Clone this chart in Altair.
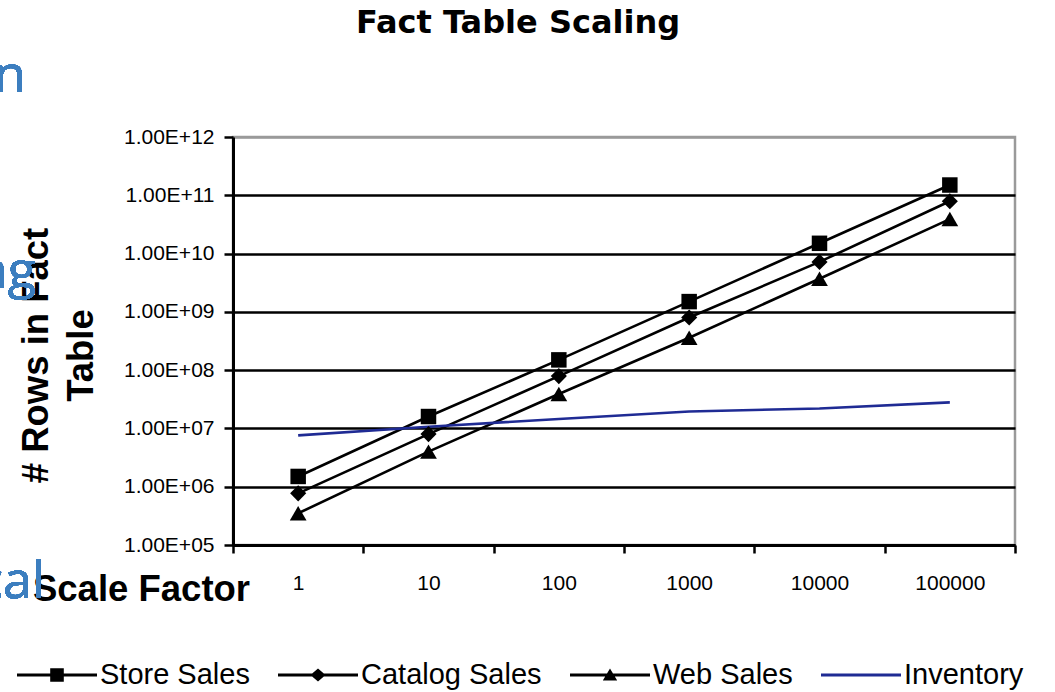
import altair as alt
import pandas as pd

# ---- data ----
scale_factors = ["1", "10", "100", "1000", "10000", "100000"]
series_names = ["Store Sales", "Catalog Sales", "Web Sales", "Inventory"]
store_sales = [1.5e6, 1.6e7, 1.5e8, 1.5e9, 1.5e10, 1.5e11]
catalog_sales = [7.7e5, 8.0e6, 7.9e7, 8.0e8, 7.2e9, 7.9e10]
web_sales = [3.5e5, 4.0e6, 3.9e7, 3.6e8, 3.7e9, 3.9e10]
inventory = [7.6e6, 1.07e7, 1.45e7, 1.95e7, 2.2e7, 2.8e7]
y_ticks = [1e5, 1e6, 1e7, 1e8, 1e9, 1e10, 1e11, 1e12]

series_colors = ["black", "black", "black", "#1f2b94"]
marker_shapes = ["square", "diamond", "triangle-up"]
marker_sizes = [240, 280, 350]
# legend symbols: line segment + marker, as filled paths in the unit box
legend_paths = [
    "M-1,-0.036H1V0.036H-1Z M-0.17,-0.17H0.17V0.17H-0.17Z",
    "M-1,-0.036H1V0.036H-1Z M0,-0.16L0.19,0L0,0.16L-0.19,0Z",
    "M-1,-0.036H1V0.036H-1Z M0,-0.16L0.18,0.14H-0.18Z",
    "M-1,-0.036H1V0.036H-1Z",
]

rows = []
for name, vals in zip(series_names, [store_sales, catalog_sales, web_sales, inventory]):
    for sf, v in zip(scale_factors, vals):
        rows.append({"scale": sf, "series": name, "rows": v})
df = pd.DataFrame(rows)

FONT = "Liberation Sans"

x_enc = alt.X(
    "scale:N",
    sort=scale_factors,
    scale=alt.Scale(type="band", domain=scale_factors, paddingInner=0, paddingOuter=0),
    bandPosition=0.5,
    axis=alt.Axis(
        labelAngle=0, labelFont=FONT, labelFontSize=21, labelColor="black",
        labelBaseline="middle", labelPadding=30,
        tickBand="extent", tickSize=8, tickWidth=2.5, tickColor="black",
        domainColor="black", domainWidth=3, grid=False,
        title="Scale Factor", titleFont=FONT, titleFontSize=36.5, titleFontWeight="bold",
        titleColor="black", titleX=-92, titleY=55, titleAlign="center",
        titleBaseline="alphabetic",
    ),
)

y_enc = alt.Y(
    "rows:Q",
    scale=alt.Scale(type="log", domain=[1e5, 1e12], nice=False),
    axis=alt.Axis(
        values=y_ticks,
        labelExpr="'1.00E+' + (round(log(datum.value)/LN10) < 10 ? '0' : '') + round(log(datum.value)/LN10)",
        labelFont=FONT, labelFontSize=21, labelColor="black", labelPadding=10,
        tickSize=9, tickWidth=2.5, tickColor="black",
        domainColor="black", domainWidth=3,
        grid=True, gridWidth=2.5,
        gridColor={"condition": {"test": "datum.value >= 1e12", "value": "#9a9a9a"}, "value": "black"},
        title=["# Rows in Fact", "Table"], titleFont=FONT, titleFontSize=36.5,
        titleFontWeight="bold", titleColor="black", titleAngle=270,
        titleX=-215, titleY=218, titleAlign="center", titleBaseline="top",
        titleLineHeight=45,
    ),
)

base = alt.Chart(df)

lines = base.mark_line(strokeWidth=2.6).encode(
    x=x_enc, y=y_enc,
    color=alt.Color("series:N", scale=alt.Scale(domain=series_names, range=series_colors), legend=None),
)

points = base.transform_filter("datum.series != 'Inventory'").mark_point(
    filled=True, opacity=1, color="black"
).encode(
    x=x_enc, y=y_enc,
    shape=alt.Shape("series:N", scale=alt.Scale(domain=series_names[:3], range=marker_shapes), legend=None),
    size=alt.Size("series:N", scale=alt.Scale(domain=series_names[:3], range=marker_sizes), legend=None),
)

legend_cfg = dict(
    title=None, orient="none", direction="horizontal", legendX=-216, legendY=498,
    labelFont=FONT, labelFontSize=29, labelColor="black", labelOffset=3,
    columnPadding=28, symbolSize=6400, symbolOpacity=1, symbolStrokeWidth=0, padding=0,
    labelLimit=400,
)

legend_layer = base.transform_filter("false").mark_point(filled=True).encode(
    x=x_enc, y=y_enc,
    shape=alt.Shape("series:N", scale=alt.Scale(domain=series_names, range=legend_paths),
                    legend=alt.Legend(**legend_cfg)),
    color=alt.Color("series:N", scale=alt.Scale(domain=series_names, range=series_colors),
                    legend=alt.Legend(**legend_cfg)),
)

BLUE = "#3c7ebf"
frag_n = alt.Chart(df).mark_text(font="Open Sans", fontSize=52, color=BLUE, align="right",
                                 baseline="alphabetic").encode(
    x=alt.value(-207), y=alt.value(-45), text=alt.value("n"))
frag_ng = alt.Chart(df).mark_text(font="Open Sans", fontSize=52, color=BLUE, align="right",
                                  baseline="alphabetic").encode(
    x=alt.value(-197), y=alt.value(151), text=alt.value("ng"))
frag_cal = alt.Chart(df).mark_text(font="Open Sans", fontSize=52, color=BLUE, align="right",
                                   baseline="alphabetic").encode(
    x=alt.value(-188), y=alt.value(461), text=alt.value("cal"))

chart = alt.layer(lines, points, legend_layer, frag_n, frag_ng, frag_cal).resolve_scale(
    color="independent", shape="independent", size="independent"
).properties(
    width=782, height=408,
    autosize=alt.AutoSizeParams(type="none"),
    padding={"left": 233, "top": 137, "right": 40, "bottom": 147},
    title=alt.Title("Fact Table Scaling", font="DejaVu Sans", fontSize=32, fontWeight="bold",
                    color="black", anchor="middle", frame="group", dx=-106, offset=10),
).configure_view(stroke="#9a9a9a", strokeWidth=2.5)

chart.save("out.html", embed_options={"renderer": "svg", "actions": False})
